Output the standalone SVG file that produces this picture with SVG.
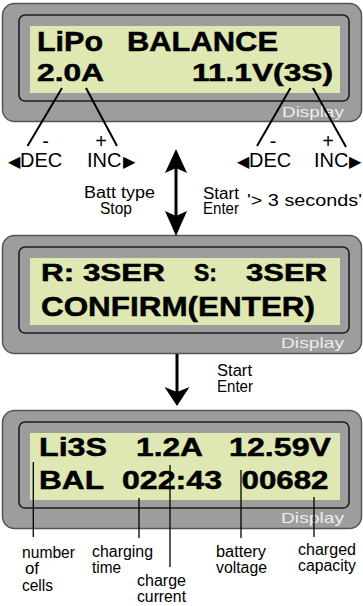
<svg xmlns="http://www.w3.org/2000/svg" width="363" height="606" viewBox="0 0 363 606">
<style>
.outer{fill:#9d9d9d;stroke:#555;stroke-width:1.5}
.inner{fill:#9d9d9d;stroke:#1e1e1e;stroke-width:1.6}
.lcd{fill:#dfe8b3}
.t{font-family:"Liberation Sans",Arial,sans-serif}
.b{font-weight:bold;fill:#000;stroke:#000;stroke-width:0.5}
.dl{font-size:15px;fill:#ececec}
.lbl{font-size:16px;fill:#000}
.btn{font-size:20px;fill:#000}
.tri{font-family:"DejaVu Sans",sans-serif;font-size:16px;fill:#000}
.lead{stroke:#000;stroke-width:2;fill:none}
.lead2{stroke:#000;stroke-width:1.3;fill:none}
.shaft{stroke:#000;stroke-width:3;fill:none}
.head{fill:#000}
</style>
<defs>
<g id="frame">
<rect class="outer" x="2.5" y="3.5" width="359" height="118" rx="12"/>
<rect class="inner" x="19" y="15" width="330" height="86" rx="6"/>
<rect class="lcd" x="30" y="26" width="310" height="67"/>
</g>
</defs>

<g id="display1">
<use href="#frame"/>
<text class="t b" x="37" y="51" font-size="28" textLength="66" lengthAdjust="spacingAndGlyphs">LiPo</text>
<text class="t b" x="127" y="51" font-size="28" textLength="151" lengthAdjust="spacingAndGlyphs">BALANCE</text>
<text class="t b" x="37" y="81" font-size="23" textLength="67" lengthAdjust="spacingAndGlyphs">2.0A</text>
<text class="t b" x="192" y="81" font-size="23" textLength="141" lengthAdjust="spacingAndGlyphs">11.1V(3S)</text>
<text class="t dl" x="282" y="117" textLength="62" lengthAdjust="spacingAndGlyphs">Display</text>
</g>

<g id="display2">
<use href="#frame" y="232"/>
<text class="t b" x="41" y="281" font-size="23" textLength="124" lengthAdjust="spacingAndGlyphs">R: 3SER</text>
<text class="t b" x="194" y="281" font-size="23">S:</text>
<text class="t b" x="246" y="281" font-size="23" textLength="81" lengthAdjust="spacingAndGlyphs">3SER</text>
<text class="t b" x="41" y="316" font-size="28" textLength="274" lengthAdjust="spacingAndGlyphs">CONFIRM(ENTER)</text>
<text class="t dl" x="281" y="348" textLength="63" lengthAdjust="spacingAndGlyphs">Display</text>
</g>

<g id="display3">
<use href="#frame" y="407"/>
<text class="t b" x="39" y="456" font-size="25" textLength="68" lengthAdjust="spacingAndGlyphs">Li3S</text>
<text class="t b" x="136" y="456" font-size="25" textLength="67" lengthAdjust="spacingAndGlyphs">1.2A</text>
<text class="t b" x="229" y="456" font-size="25" textLength="102" lengthAdjust="spacingAndGlyphs">12.59V</text>
<text class="t b" x="39" y="489" font-size="26" textLength="65" lengthAdjust="spacingAndGlyphs">BAL</text>
<text class="t b" x="122" y="489" font-size="26" textLength="100" lengthAdjust="spacingAndGlyphs">022:43</text>
<text class="t b" x="241.5" y="489" font-size="26" textLength="87" lengthAdjust="spacingAndGlyphs">00682</text>
<text class="t dl" x="281" y="523" textLength="63" lengthAdjust="spacingAndGlyphs">Display</text>
</g>

<g id="buttons-left">
<text class="t btn" x="45.5" y="148" text-anchor="middle">-</text>
<text class="t btn" x="101" y="148" text-anchor="middle">+</text>
<text class="t btn" y="167"><tspan class="tri" x="8">◀</tspan><tspan x="20">DEC</tspan></text>
<text class="t btn" y="167"><tspan x="87">INC</tspan><tspan class="tri" x="123">▶</tspan></text>
</g>

<g id="buttons-right">
<text class="t btn" x="273" y="148" text-anchor="middle">-</text>
<text class="t btn" x="328" y="148" text-anchor="middle">+</text>
<text class="t btn" y="167"><tspan class="tri" x="237">◀</tspan><tspan x="249">DEC</tspan></text>
<text class="t btn" y="167"><tspan x="314">INC</tspan><tspan class="tri" x="349">▶</tspan></text>
</g>

<g id="labels-top">
<text class="t lbl" x="84" y="198" textLength="71" lengthAdjust="spacingAndGlyphs">Batt type</text>
<text class="t lbl" x="100" y="214" textLength="32" lengthAdjust="spacingAndGlyphs">Stop</text>
<text class="t lbl" x="203" y="199" textLength="36" lengthAdjust="spacingAndGlyphs">Start</text>
<text class="t lbl" x="203" y="214" textLength="36" lengthAdjust="spacingAndGlyphs">Enter</text>
<text class="t lbl" x="247" y="206" textLength="115" lengthAdjust="spacingAndGlyphs">'&gt; 3 seconds'</text>
<text class="t lbl" x="217" y="376" textLength="35" lengthAdjust="spacingAndGlyphs">Start</text>
<text class="t lbl" x="217" y="392" textLength="36" lengthAdjust="spacingAndGlyphs">Enter</text>
</g>

<g id="labels-bottom">
<text class="t lbl" x="22" y="558" textLength="53" lengthAdjust="spacingAndGlyphs">number</text>
<text class="t lbl" x="25" y="574" textLength="14" lengthAdjust="spacingAndGlyphs">of</text>
<text class="t lbl" x="22" y="591" textLength="31" lengthAdjust="spacingAndGlyphs">cells</text>
<text class="t lbl" x="92" y="557" textLength="61" lengthAdjust="spacingAndGlyphs">charging</text>
<text class="t lbl" x="92" y="573" textLength="29" lengthAdjust="spacingAndGlyphs">time</text>
<text class="t lbl" x="137" y="586" textLength="49" lengthAdjust="spacingAndGlyphs">charge</text>
<text class="t lbl" x="137" y="602" textLength="49" lengthAdjust="spacingAndGlyphs">current</text>
<text class="t lbl" x="216" y="557" textLength="50" lengthAdjust="spacingAndGlyphs">battery</text>
<text class="t lbl" x="216" y="573" textLength="51" lengthAdjust="spacingAndGlyphs">voltage</text>
<text class="t lbl" x="298" y="555" textLength="58" lengthAdjust="spacingAndGlyphs">charged</text>
<text class="t lbl" x="298" y="571" textLength="58" lengthAdjust="spacingAndGlyphs">capacity</text>
</g>

<g id="connectors">
<line class="lead" x1="62" y1="88" x2="27.5" y2="146"/>
<line class="lead" x1="86" y1="88" x2="117" y2="146"/>
<line class="lead" x1="290.5" y1="88" x2="257" y2="146"/>
<line class="lead" x1="313" y1="88" x2="346" y2="147"/>
<line class="shaft" x1="176" y1="165" x2="176" y2="220"/>
<path class="head" d="M176,149 L187,173 L176,168 L165,173 Z"/>
<path class="head" d="M176,236 L187,211 L176,216 L165,211 Z"/>
<line class="shaft" x1="177" y1="354" x2="177" y2="395"/>
<path class="head" d="M177,406 L189.5,387 L177,392 L164.5,387 Z"/>
<line class="lead2" x1="33.3" y1="462" x2="33.3" y2="537"/>
<line class="lead2" x1="139" y1="498" x2="139" y2="538"/>
<line class="lead2" x1="170" y1="465" x2="170" y2="567"/>
<line class="lead2" x1="241" y1="470" x2="241" y2="538"/>
<line class="lead2" x1="314" y1="497" x2="314" y2="537"/>
</g>
</svg>
